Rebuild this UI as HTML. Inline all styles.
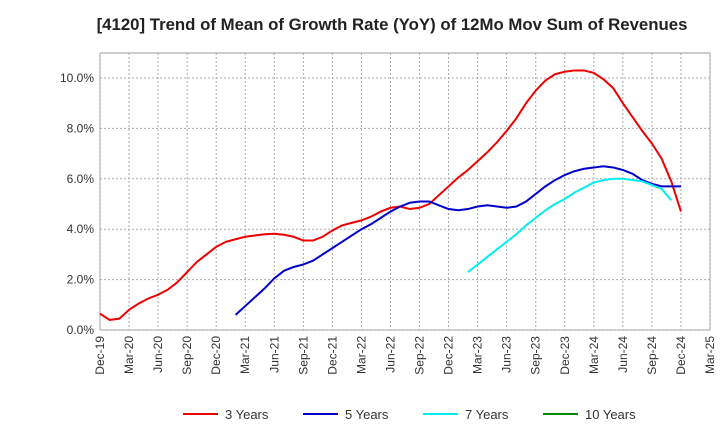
<!DOCTYPE html>
<html><head><meta charset="utf-8"><style>
body{margin:0;background:#fff;font-family:"Liberation Sans",sans-serif}
svg text{font-family:"Liberation Sans",sans-serif}
</style></head><body>
<svg id="c" width="720" height="440"></svg>
<script>
const xLabels=["Dec-19","Mar-20","Jun-20","Sep-20","Dec-20","Mar-21","Jun-21","Sep-21","Dec-21","Mar-22","Jun-22","Sep-22","Dec-22","Mar-23","Jun-23","Sep-23","Dec-23","Mar-24","Jun-24","Sep-24","Dec-24","Mar-25"];
const yTicks=[0,2,4,6,8,10];
const y3Start=0;
const y3=[0.65,0.4,0.45,0.8,1.05,1.25,1.4,1.6,1.9,2.3,2.7,3.0,3.3,3.5,3.6,3.7,3.75,3.8,3.82,3.78,3.7,3.55,3.55,3.7,3.95,4.15,4.25,4.35,4.5,4.7,4.85,4.9,4.8,4.85,5.0,5.35,5.7,6.05,6.35,6.7,7.05,7.45,7.9,8.4,9.0,9.5,9.9,10.15,10.25,10.3,10.3,10.2,9.95,9.6,9.0,8.45,7.9,7.4,6.8,5.9,4.7];
const y5Start=14;
const y5=[0.6,0.95,1.3,1.65,2.05,2.35,2.5,2.6,2.75,3.0,3.25,3.5,3.75,4.0,4.2,4.45,4.7,4.9,5.05,5.1,5.1,4.95,4.8,4.75,4.8,4.9,4.95,4.9,4.85,4.9,5.1,5.4,5.7,5.95,6.15,6.3,6.4,6.45,6.5,6.45,6.35,6.2,5.95,5.8,5.7,5.7,5.7];
const y7Start=38;
const y7=[2.3,2.6,2.9,3.2,3.5,3.8,4.15,4.45,4.75,5.0,5.2,5.45,5.65,5.85,5.95,6.0,6.0,5.95,5.9,5.75,5.6,5.15];
const y10=[];
const NS="http://www.w3.org/2000/svg";
const svg=document.getElementById('c');
const L=100,R=710,T=53,B=330;
const xs=m=>L+m*(R-L)/63;
const ys=v=>B-v*(B-78)/10;
function el(t,a,p){const e=document.createElementNS(NS,t);for(const k in a)e.setAttribute(k,a[k]);(p||svg).appendChild(e);return e;}
const title=el('text',{x:392,y:30,'text-anchor':'middle','font-size':16.8,'font-weight':'bold',fill:'#222'});


title.textContent="[4120]  Trend of Mean of Growth Rate (YoY) of 12Mo Mov Sum of Revenues";
const bg=el('rect',{x:L,y:T,width:R-L,height:B-T,fill:'#fff',stroke:'#999'});


yTicks.forEach(v=>{
 const g=el('line',{x1:L,x2:R,y1:ys(v),y2:ys(v),stroke:'#aaa','stroke-dasharray':'2,2'});
 
 
 const t=el('text',{x:L-6,y:ys(v)+4,'text-anchor':'end','font-size':12,fill:'#333'});
 
 
 t.textContent=v.toFixed(1)+'%';
});
xLabels.forEach((lab,i)=>{
 const x=xs(i*3);
 const g=el('line',{x1:x,x2:x,y1:T,y2:B,stroke:'#aaa','stroke-dasharray':'2,2'});
 
 
 const t=el('text',{x:x+4,y:B+6,'text-anchor':'end','font-size':12,fill:'#333',transform:`rotate(-90 ${x+4} ${B+6})`});
 
 
 t.textContent=lab;
});
function series(arr,start,color,name){
 if(!arr.length)return;
 const p=el('polyline',{points:arr.map((v,i)=>xs(start+i)+','+ys(v)).join(' '),fill:'none',stroke:color,'stroke-width':2});
 
 
}
series(y3,y3Start,'#e00','line-3-years');
series(y5,y5Start,'#00c','line-5-years');
series(y7,y7Start,'#0ee','line-7-years');
series(y10,0,'#080','line-10-years');
const leg=[["3 Years","#e00",183],["5 Years","#00c",303],["7 Years","#0ee",423],["10 Years","#080",543]];
leg.forEach(([n,c,x])=>{
 const g=el('g',{});
 
 
 el('line',{x1:x,x2:x+35,y1:414,y2:414,stroke:c,'stroke-width':2},g);
 const t=el('text',{x:x+42,y:419,'font-size':13,fill:'#333'},g);
 t.textContent=n;
});
</script>
</body></html>
